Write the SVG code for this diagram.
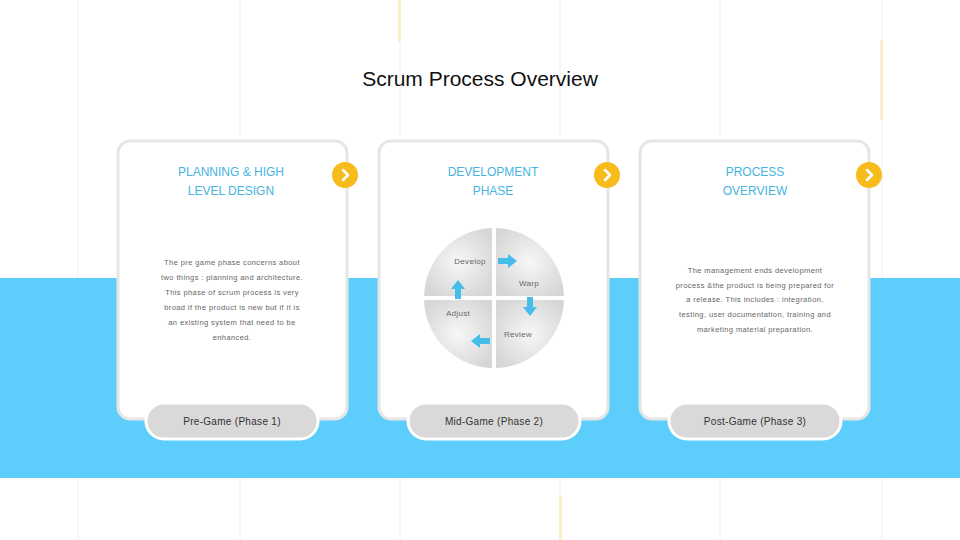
<svg xmlns="http://www.w3.org/2000/svg" width="960" height="540" viewBox="0 0 960 540">
<defs>
<style>
.grid{stroke:#f0f0f0;stroke-width:1}
.card{fill:#fff;stroke:#e6e6e6;stroke-width:3}
.pill{fill:#d9d9d9;stroke:#fff;stroke-width:3}
.title{font-family:"Liberation Sans",Arial,sans-serif;font-size:12px;fill:#45b4e0;text-anchor:middle}
.body{font-family:"Liberation Sans",Arial,sans-serif;font-size:7.5px;fill:#666;text-anchor:middle;letter-spacing:0.4px}
.pt{font-family:"Liberation Sans",Arial,sans-serif;font-size:10px;fill:#333;text-anchor:middle;letter-spacing:0.3px}
.ql{font-family:"Liberation Sans",Arial,sans-serif;font-size:8px;fill:#666;text-anchor:middle;letter-spacing:0.3px}
.q{fill:#dedede}
.arr{fill:#45bde8}
</style>
<radialGradient id="g" cx="0.5" cy="0.5" r="0.6"><stop offset="0" stop-color="#f7f7f7"/><stop offset="1" stop-color="#d6d6d6"/></radialGradient>
<clipPath id="c"><circle cx="494" cy="298" r="70"/></clipPath>
<g id="chev"><circle r="13" fill="#f8bb1c"/><path d="M-2,-5 L3,0 L-2,5" fill="none" stroke="#fff" stroke-width="2.5" stroke-linecap="round" stroke-linejoin="round"/></g>
</defs>
<rect width="960" height="540" fill="#fff"/>
<g id="bg">
<line class="grid" x1="78" y1="0" x2="78" y2="540"/><line class="grid" x1="240" y1="0" x2="240" y2="540"/><line class="grid" x1="400" y1="0" x2="400" y2="540"/><line class="grid" x1="560" y1="0" x2="560" y2="540"/><line class="grid" x1="720" y1="0" x2="720" y2="540"/><line class="grid" x1="882" y1="0" x2="882" y2="540"/>
<rect x="0" y="278" width="960" height="200" fill="#5dcdfb"/>
<rect x="398" y="0" width="3" height="42" fill="#fbeecb"/>
<rect x="880" y="40" width="3" height="80" fill="#fbeecb"/>
<rect x="559" y="496" width="3" height="44" fill="#fbeecb"/>
</g>
<text x="480" y="86" font-family="Liberation Sans,Arial,sans-serif" font-size="21" fill="#111" text-anchor="middle">Scrum Process Overview</text>
<g id="card1">
<rect class="card" x="118" y="141" width="229" height="278" rx="12"/>
<text class="title" x="231" y="176">PLANNING &amp; HIGH</text>
<text class="title" x="231" y="195">LEVEL DESIGN</text>
<text class="body" x="232" y="265">The pre game phase concerns about</text>
<text class="body" x="232" y="280">two things : planning and architecture.</text>
<text class="body" x="232" y="295">This phase of scrum process is very</text>
<text class="body" x="232" y="310">broad if the product is new but if it is</text>
<text class="body" x="232" y="325">an existing system that need to be</text>
<text class="body" x="232" y="340">enhanced.</text>
<rect class="pill" x="146" y="403" width="172" height="36" rx="18"/>
<text class="pt" x="232" y="425">Pre-Game (Phase 1)</text>
<use href="#chev" x="345" y="175"/>
</g>
<g id="card2">
<rect class="card" x="379" y="141" width="229" height="278" rx="12"/>
<text class="title" x="493" y="176">DEVELOPMENT</text>
<text class="title" x="493" y="195">PHASE</text>
<g clip-path="url(#c)" fill="url(#g)">
<rect x="424" y="228" width="68" height="68"/><rect x="496" y="228" width="68" height="68"/>
<rect x="424" y="300" width="68" height="68"/><rect x="496" y="300" width="68" height="68"/>
</g>
<path class="arr" d="M498,258 h10 v-4 l9,7 l-9,7 v-4 h-10z"/>
<path class="arr" d="M527,297 v10 h-4 l7,9 l7,-9 h-4 v-10z"/>
<path class="arr" d="M490,338 h-10 v-4 l-9,7 l9,7 v-4 h10z"/>
<path class="arr" d="M455,299 v-10 h-4 l7,-9 l7,9 h-4 v10z"/>
<text class="ql" x="470" y="264">Develop</text>
<text class="ql" x="529" y="286">Warp</text>
<text class="ql" x="458" y="316">Adjust</text>
<text class="ql" x="518" y="337">Review</text>
<rect class="pill" x="408" y="403" width="172" height="36" rx="18"/>
<text class="pt" x="494" y="425">Mid-Game (Phase 2)</text>
<use href="#chev" x="607" y="175"/>
</g>
<g id="card3">
<rect class="card" x="640" y="141" width="229" height="278" rx="12"/>
<text class="title" x="755" y="176">PROCESS</text>
<text class="title" x="755" y="195">OVERVIEW</text>
<text class="body" x="755" y="273">The management ends development</text>
<text class="body" x="755" y="288">process &amp;the product is being prepared for</text>
<text class="body" x="755" y="302">a release. This includes : integration,</text>
<text class="body" x="755" y="317">testing, user documentation, training and</text>
<text class="body" x="755" y="332">marketing material preparation.</text>
<rect class="pill" x="669" y="403" width="172" height="36" rx="18"/>
<text class="pt" x="755" y="425">Post-Game (Phase 3)</text>
<use href="#chev" x="869" y="175"/>
</g>
<g id="connectors"/>
</svg>
